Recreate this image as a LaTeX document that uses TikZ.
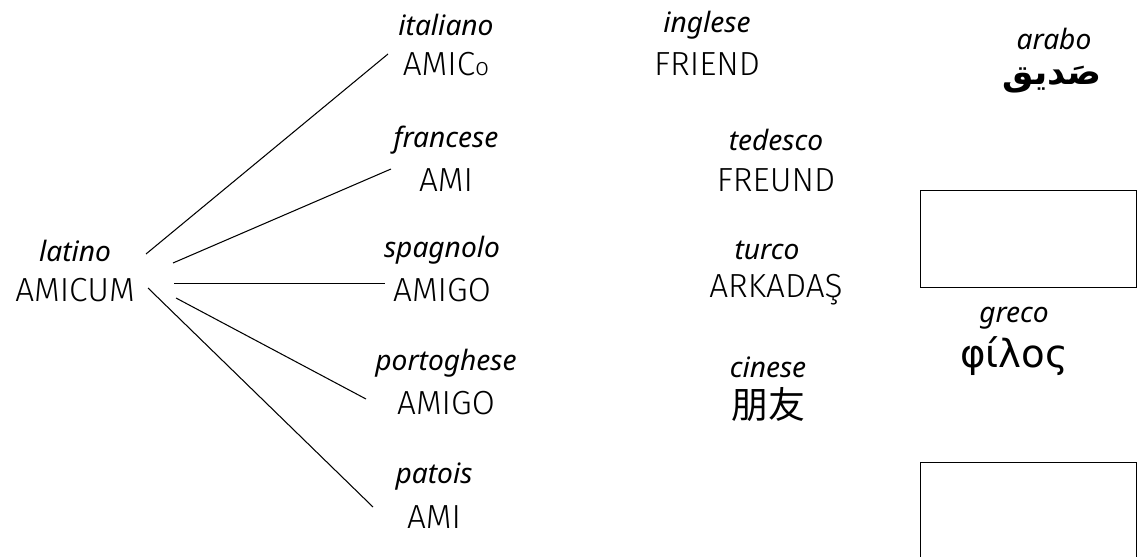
\documentclass[tikz,border=0pt]{standalone}
\usepackage{fontspec}
\setmainfont{Noto Sans}
\newfontfamily\wordfont{Fira Sans Light}
\newfontfamily\arabicfont[Script=Arabic]{DejaVu Sans}
\newfontfamily\cjk{Noto Sans CJK SC}
\newfontfamily\greekfont{DejaVu Sans}
\TeXXeTstate=1

\begin{document}
\begin{tikzpicture}[x=0.02cm, y=-0.02cm,
    lang/.style={font=\fontsize{16}{18}\selectfont\itshape, inner sep=0pt},
    word/.style={font=\wordfont\fontsize{19}{21}\selectfont, inner sep=0pt},
    fan/.style={line width=0.6pt},
    photo/.style={draw, line width=0.8pt, minimum width=4.32cm, minimum height=1.94cm, inner sep=0pt}]
    \useasboundingbox (0,0) rectangle (1138,557);
    \clip (0,0) rectangle (1138,557);

    % latin root
    \node[lang] (lat) at (75,251) {latino};
    \node[word] (latw) at (75,290) {AMICUM};

    % romance languages
    \node[lang] (ita) at (446,25) {italiano};
    \node[word] (itaw) at (446,64) {AMIC{\fontsize{14}{16}\selectfont o}};
    \node[lang] (fra) at (446,140) {francese};
    \node[word] (fraw) at (446,180) {AMI};
    \node[lang] (spa) at (442,250) {spagnolo};
    \node[word] (spaw) at (442,290) {AMIGO};
    \node[lang] (por) at (446,363) {portoghese};
    \node[word] (porw) at (446,403) {AMIGO};
    \node[lang] (pat) at (434,477) {patois};
    \node[word] (patw) at (434,517) {AMI};

    % other languages
    \node[lang] (ing) at (707,25) {inglese};
    \node[word] (ingw) at (707,64) {FRIEND};
    \node[lang] (ted) at (776,140) {tedesco};
    \node[word] (tedw) at (776,180) {FREUND};
    \node[lang] (tur) at (767,250) {turco};
    \node[word] (turw) at (776,290) {ARKADAŞ};
    \node[lang] (cin) at (768,367) {cinese};
    \node[font=\cjk\fontsize{21}{23}\selectfont, inner sep=0pt] (cinw) at (768,405) {朋友};
    \node[lang] (ara) at (1054,39) {arabo};
    \node[font=\arabicfont\bfseries\fontsize{20}{22}\selectfont, inner sep=0pt] (araw) at (1052,80) {\beginR صَديق\endR};
    \node[lang] (gre) at (1014,318) {greco};
    \node[font=\greekfont\fontsize{22}{24}\selectfont, inner sep=0pt] (grew) at (1014,356) {φίλος};

    % empty frames
    \node[photo, anchor=north west] (box1) at (920,190) {};
    \node[photo, anchor=north west] (box2) at (920,462) {};

    % fan of links
    \coordinate (a1) at (146,254);
    \coordinate (a2) at (173,263);
    \coordinate (a3) at (174,283.5);
    \coordinate (a4) at (176,298);
    \coordinate (a5) at (148,288);
    \coordinate (b1) at (388,54);
    \coordinate (b2) at (391,169);
    \coordinate (b3) at (385,283.5);
    \coordinate (b4) at (366,399);
    \coordinate (b5) at (373,507);
    \foreach \i in {1,...,5}
        \draw[fan] (a\i) -- (b\i);
\end{tikzpicture}
\end{document}
